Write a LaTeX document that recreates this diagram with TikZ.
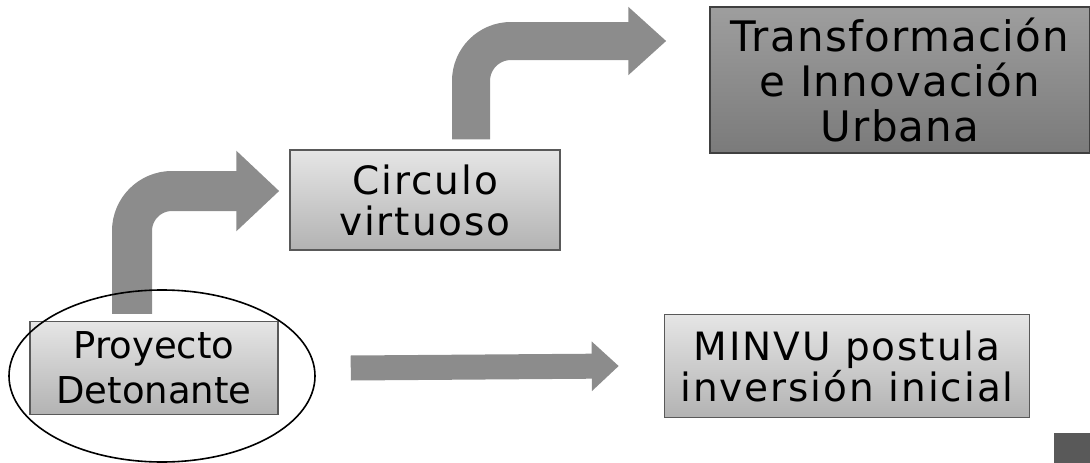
\documentclass[tikz,border=0pt]{standalone}
\usepackage{fontspec}
\setmainfont{DejaVu Sans}
\usetikzlibrary{arrows.meta,shapes.geometric}
\begin{document}
\begin{tikzpicture}[x=1pt,y=-1pt,
    caja/.style={draw=black!65, line width=1.5pt, top color=black!10, bottom color=black!30,
                 align=center, inner sep=0pt},
    cajaosc/.style={caja, draw=black!75, top color=black!38, bottom color=black!52},
    flecha/.style={draw=black!45, line width=#1, rounded corners=40pt}]
  \useasboundingbox (0,0) rectangle (1090,463);
  % cajas
  \node[caja, minimum width=248, minimum height=93, font=\fontsize{37}{45}\selectfont]
       (proy) at (154,368) {Proyecto\\Detonante};
  \node[caja, minimum width=270, minimum height=100,
        font=\fontsize{39}{41}\selectfont\addfontfeature{LetterSpace=5}]
       (circ) at (425,200) {Circulo\\virtuoso};
  \node[cajaosc, minimum width=380, minimum height=146,
        font=\fontsize{42}{45}\selectfont\addfontfeature{LetterSpace=3}]
       (trans) at (900,80) {Transformación\\e Innovación\\Urbana};
  \node[caja, minimum width=365, minimum height=103,
        font=\fontsize{39}{41}\selectfont\addfontfeature{LetterSpace=5}]
       (minvu) at (847,366) {MINVU postula\\inversión inicial};
  % flechas
  \draw[flecha=40pt, -{Triangle[length=43pt,width=78pt]}]
       ([xshift=-22pt,yshift=7pt]proy.north) |- ([xshift=-10pt,yshift=9pt]circ.west);
  \draw[flecha=38pt, -{Triangle[length=38pt,width=66pt]}]
       ([xshift=46pt,yshift=10pt]circ.north) |- ([xshift=-43pt,yshift=39pt]trans.west);
  \draw[flecha=25pt, -{Triangle[length=27pt,width=48pt]}]
       ([xshift=72pt]proy.east) -- ([xshift=-45pt]minvu.west);
  % elipse y esquina
  \node[draw, ellipse, line width=1.6pt, minimum width=306, minimum height=172] (anillo) at (162,376) {};
  \node[fill=black!65, minimum width=37, minimum height=30, inner sep=0pt] (esquina) at (1072,448) {};
\end{tikzpicture}
\end{document}
